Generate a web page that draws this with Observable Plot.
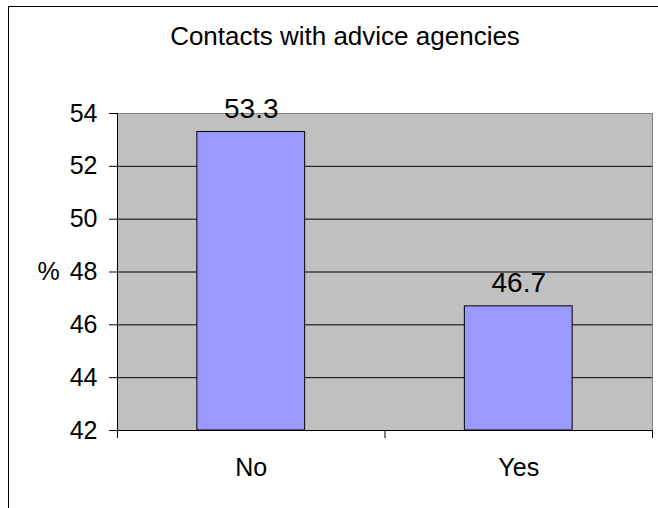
<!DOCTYPE html>
<html><head><meta charset="utf-8">
<script src="https://cdn.jsdelivr.net/npm/d3@7"></script>
<script src="https://cdn.jsdelivr.net/npm/@observablehq/plot@0.6"></script>
<style>
html,body{margin:0;padding:0;overflow:hidden;background:#fff;}
#wrap{position:relative;width:658px;height:508px;font-family:"Liberation Sans",Arial,sans-serif;}
#border{position:absolute;left:8px;top:6px;width:700px;height:600px;border:1px solid #000;}
#title{position:absolute;left:145px;width:400px;top:24px;text-align:center;font-size:26px;line-height:25px;color:#000;white-space:nowrap;}
#chart{position:absolute;left:0;top:0;}
</style></head><body>
<div id="wrap"><div id="border"></div><div id="chart"></div><div id="title"></div></div>
<script>
const categories = ["No", "Yes"];
const values = [53.3, 46.7];
const yTicks = [42, 44, 46, 48, 50, 52, 54];
const gridTicks = [44, 46, 48, 50, 52];
const title = "Contacts with advice agencies";
const yLabel = "%";

const barGap = 0.597;
const data = categories.map((c, i) => ({cat: c, i, value: values[i]}));
document.getElementById("title").textContent = title;

const chart = Plot.plot({
  width: 658, height: 508,
  marginLeft: 117, marginRight: 6, marginTop: 113, marginBottom: 78,
  style: {fontFamily: '"Liberation Sans", Arial, sans-serif', fontSize: "25px", background: "transparent", overflow: "visible", color: "#000"},
  x: {domain: [0, categories.length], axis: null},
  y: {domain: [42, 54], axis: null},
  marks: [
    Plot.frame({fill: "#c0c0c0", stroke: "#808080"}),
    Plot.ruleY(gridTicks, {stroke: "#000"}),
    Plot.rect(data, {x1: d => d.i + barGap / 2, x2: d => d.i + 1 - barGap / 2, y1: 42, y2: "value", fill: "#9999ff", stroke: "#000", strokeWidth: 1}),
    Plot.ruleX([0], {stroke: "#000"}),
    Plot.ruleY([42], {stroke: "#000"}),
    Plot.axisY({ticks: yTicks, tickSize: 8, tickPadding: 12, label: null, fontSize: 25, tickFormat: d => String(d)}),
    Plot.axisX({ticks: d3.range(categories.length + 1), tickSize: 8, tickFormat: () => "", label: null}),
    Plot.text(data, {x: d => d.i + 0.5, text: "cat", frameAnchor: "bottom", dy: 37, lineAnchor: "middle", fontSize: 25, fill: "#000"}),
    Plot.text(data, {x: d => d.i + 0.5, y: "value", text: d => d.value.toFixed(1), dy: -23, fontSize: 28, lineAnchor: "middle", fill: "#000"}),
    Plot.text([yLabel], {frameAnchor: "left", dx: -69, textAnchor: "middle", text: d => d, fontSize: 25, fill: "#000"})
  ]
});
document.getElementById("chart").appendChild(chart);
</script>
</body></html>
